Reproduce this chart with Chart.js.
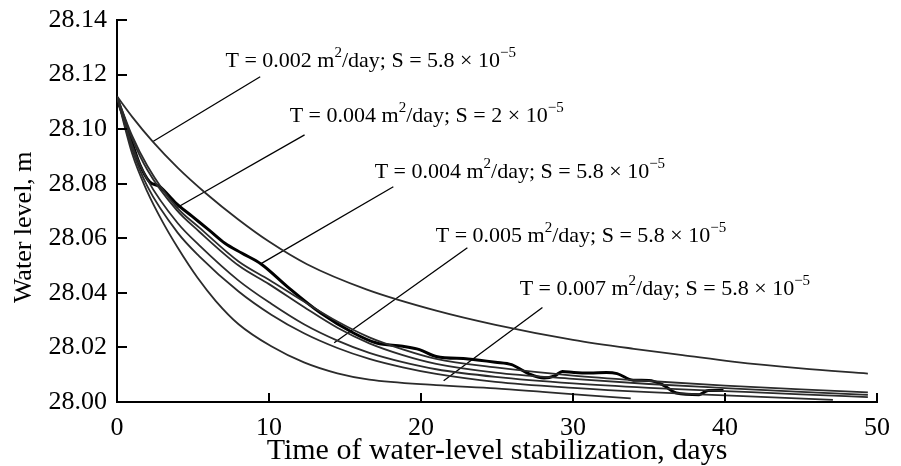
<!DOCTYPE html>
<html>
<head>
<meta charset="utf-8">
<script src="https://cdn.jsdelivr.net/npm/chart.js@4.4.1/dist/chart.umd.min.js"></script>
<style>
  body { margin: 0; background: #fff; }
  #wrap { width: 901px; height: 466px; position: relative; }
</style>
</head>
<body>
<div id="wrap"><canvas id="chart-water-level"></canvas></div>
<script>
// Model curves, days vs water level [m]
var daysA  = [0, 1, 2.34, 4, 5.82, 8, 10, 12.5, 16.4, 21, 24.9, 30, 34, 37.2, 40.5, 45, 49.4];
var levelA = [28.112, 28.1045, 28.0955, 28.0858, 28.0766, 28.0668, 28.0588, 28.0505, 28.0413, 28.0335, 28.0283, 28.0228, 28.0195, 28.0172, 28.0148, 28.0123, 28.0104];

var daysB  = [0, 1, 2, 3.9, 5.4, 8, 10, 12.3, 14.5, 16.6, 18.8, 21, 24.9, 30, 35, 40, 45, 49.4];
var levelB = [28.112, 28.0975, 28.0865, 28.0715, 28.064, 28.0515, 28.0448, 28.0368, 28.0295, 28.0237, 28.0193, 28.0158, 28.0127, 28.0097, 28.0077, 28.006, 28.0046, 28.0035];

var daysC1  = [0, 1, 2, 3.9, 5.4, 8, 10, 12.3, 14.5, 16.6, 18.8, 21, 24.9, 30, 35, 40, 45, 49.4];
var levelC1 = [28.112, 28.0965, 28.085, 28.0705, 28.0625, 28.05, 28.0432, 28.0348, 28.0272, 28.0215, 28.0172, 28.014, 28.0108, 28.0085, 28.0066, 28.0051, 28.0037, 28.0026];

var daysC  = [0, 1, 2, 4, 5.4, 8, 10.15, 12.3, 14.5, 16.6, 18.8, 21, 24.9, 30, 35, 40, 45, 49.4];
var levelC = [28.112, 28.094, 28.0815, 28.0655, 28.0575, 28.0445, 28.036, 28.0285, 28.0225, 28.018, 28.0146, 28.012, 28.0092, 28.0068, 28.0052, 28.004, 28.0028, 28.0018];

var daysD  = [0, 1, 2, 4, 5.4, 8, 10.15, 12.3, 14.5, 16.6, 18.8, 21, 24.9, 30, 35, 40, 47.1];
var levelD = [28.112, 28.0925, 28.079, 28.062, 28.0535, 28.0405, 28.032, 28.0252, 28.0198, 28.0158, 28.0127, 28.0103, 28.0074, 28.0052, 28.0036, 28.0024, 28.0008];

var daysE  = [0, 1, 2, 3, 4, 5.3, 6.5, 8, 10.15, 12.3, 14.5, 16.6, 21, 24.9, 28, 31, 33.8];
var levelE = [28.112, 28.091, 28.077, 28.066, 28.0565, 28.0455, 28.037, 28.0285, 28.0204, 28.0145, 28.0105, 28.0082, 28.0062, 28.005, 28.0037, 28.0024, 28.0013];

// Observed water level
var daysObs  = [0, 0.5, 1.04, 1.5, 2.14, 2.8, 3.87, 4.95, 6.04, 7.1, 8.2, 9.5, 11.2, 13.4, 15.56, 17.08, 18.8, 19.9, 21, 23.1, 24.9, 25.96, 27, 28.1, 28.8, 29.3, 30.06, 31.1, 32.2, 32.9, 33.96, 35, 35.9, 36.8, 38.3, 38.9, 39.9];
var levelObs = [28.111, 28.1033, 28.0942, 28.087, 28.0807, 28.079, 28.0729, 28.068, 28.0631, 28.0582, 28.0546, 28.0505, 28.0423, 28.0326, 28.0253, 28.0216, 28.0204, 28.0192, 28.0167, 28.0158, 28.0146, 28.0137, 28.0106, 28.0088, 28.0096, 28.0112, 28.0108, 28.0106, 28.0108, 28.0104, 28.008, 28.0079, 28.0063, 28.0033, 28.0027, 28.0042, 28.0042];

// Curve labels and their leader lines
var labelT = ['0.002', '0.004', '0.004', '0.005', '0.007'];
var labelS = ['5.8', '2', '5.8', '5.8', '5.8'];
var labelDays   = [7.14, 11.36, 16.95, 20.97, 26.49];
var labelLevels = [28.1228, 28.1027, 28.0822, 28.0587, 28.0393];
var leaderFromDays   = [2.34, 3.9, 9.48, 14.29, 21.49];
var leaderFromLevels = [28.0954, 28.0711, 28.0507, 28.0217, 28.0078];
var leaderToDays     = [9.42, 12.34, 18.18, 23.05, 27.99];
var leaderToLevels   = [28.1192, 28.0979, 28.0789, 28.0565, 28.0346];

var FONT = "'Liberation Serif', 'Times New Roman', serif";

function toPoints(xs, ys) {
  return xs.map(function(x, i) { return { x: x, y: ys[i] }; });
}

function curve(xs, ys, width, color) {
  return {
    data: toPoints(xs, ys),
    showLine: true,
    borderColor: color,
    borderWidth: width,
    pointRadius: 0,
    cubicInterpolationMode: 'monotone',
    fill: false
  };
}

var datasets = [
  curve(daysA, levelA, 1.8, '#2b2b2b'),
  curve(daysB, levelB, 1.8, '#2b2b2b'),
  curve(daysC1, levelC1, 1.8, '#2b2b2b'),
  curve(daysC, levelC, 1.8, '#2b2b2b'),
  curve(daysD, levelD, 1.8, '#2b2b2b'),
  curve(daysE, levelE, 1.8, '#2b2b2b'),
  curve(daysObs, levelObs, 3, '#000')
];

for (var i = 0; i < leaderFromDays.length; i++) {
  datasets.push({
    data: [{ x: leaderFromDays[i], y: leaderFromLevels[i] }, { x: leaderToDays[i], y: leaderToLevels[i] }],
    showLine: true,
    borderColor: '#000',
    borderWidth: 1.3,
    pointRadius: 0,
    tension: 0
  });
}

// inward tick marks + curve labels with superscripts
var decorPlugin = {
  id: 'decor',
  afterDraw: function(chart) {
    var ctx = chart.ctx;
    var xs = chart.scales.x, ys = chart.scales.y;
    ctx.save();
    ctx.strokeStyle = '#000';
    ctx.lineWidth = 2;
    xs.ticks.forEach(function(t) {
      var px = Math.round(xs.getPixelForValue(t.value));
      ctx.beginPath(); ctx.moveTo(px, ys.bottom); ctx.lineTo(px, ys.bottom - 9); ctx.stroke();
    });
    ys.ticks.forEach(function(t) {
      var py = Math.round(ys.getPixelForValue(t.value));
      ctx.beginPath(); ctx.moveTo(xs.left, py); ctx.lineTo(xs.left + 10, py); ctx.stroke();
    });

    ctx.fillStyle = '#000';
    ctx.textBaseline = 'alphabetic';
    ctx.textAlign = 'left';
    for (var i = 0; i < labelT.length; i++) {
      var x = xs.getPixelForValue(labelDays[i]);
      var y = ys.getPixelForValue(labelLevels[i]);
      var parts = [
        ['T = ' + labelT[i] + ' m', false],
        ['2', true],
        ['/day; S = ' + labelS[i] + ' \u00D7 10', false],
        ['\u22125', true]
      ];
      parts.forEach(function(p) {
        ctx.font = (p[1] ? '15px ' : '22px ') + FONT;
        ctx.fillText(p[0], x, p[1] ? y - 10 : y);
        x += ctx.measureText(p[0]).width;
      });
    }
    ctx.restore();
  }
};

var ctx = document.getElementById('chart-water-level').getContext('2d');
var chart = new Chart(ctx, {
  type: 'scatter',
  data: { datasets: datasets },
  plugins: [decorPlugin],
  options: {
    responsive: true,
    maintainAspectRatio: false,
    animation: false,
    layout: { padding: { top: 20, right: 14, left: 0, bottom: 0 } },
    plugins: {
      legend: { display: false },
      tooltip: { enabled: false }
    },
    scales: {
      x: {
        type: 'linear',
        min: 0,
        max: 50,
        afterFit: function(scale) { scale.height = 64; },
        grid: { display: false, drawTicks: false },
        border: { display: true, color: '#000', width: 2 },
        ticks: {
          stepSize: 10,
          padding: 11,
          color: '#000',
          font: { family: FONT, size: 26 }
        },
        title: {
          display: true,
          text: 'Time of water-level stabilization, days',
          color: '#000',
          font: { family: FONT, size: 30 },
          padding: { top: 0, bottom: -3 }
        }
      },
      y: {
        type: 'linear',
        min: 28.00,
        max: 28.14,
        // fixed width; top label overflow is covered by the layout padding
        afterFit: function(scale) { scale.width = 117; scale.paddingTop = 0; },
        grid: { display: false, drawTicks: false },
        border: { display: true, color: '#000', width: 2 },
        ticks: {
          stepSize: 0.02,
          padding: 10,
          color: '#000',
          font: { family: FONT, size: 26 },
          callback: function(v) { return v.toFixed(2); }
        },
        title: {
          display: true,
          // trailing spaces push the rotated text a little below the axis middle, as in the source
          text: 'Water level, m\u2002\u2002 ',
          color: '#000',
          font: { family: FONT, size: 26 },
          padding: { top: 9, bottom: 0 }
        }
      }
    }
  }
});
</script>
</body>
</html>
